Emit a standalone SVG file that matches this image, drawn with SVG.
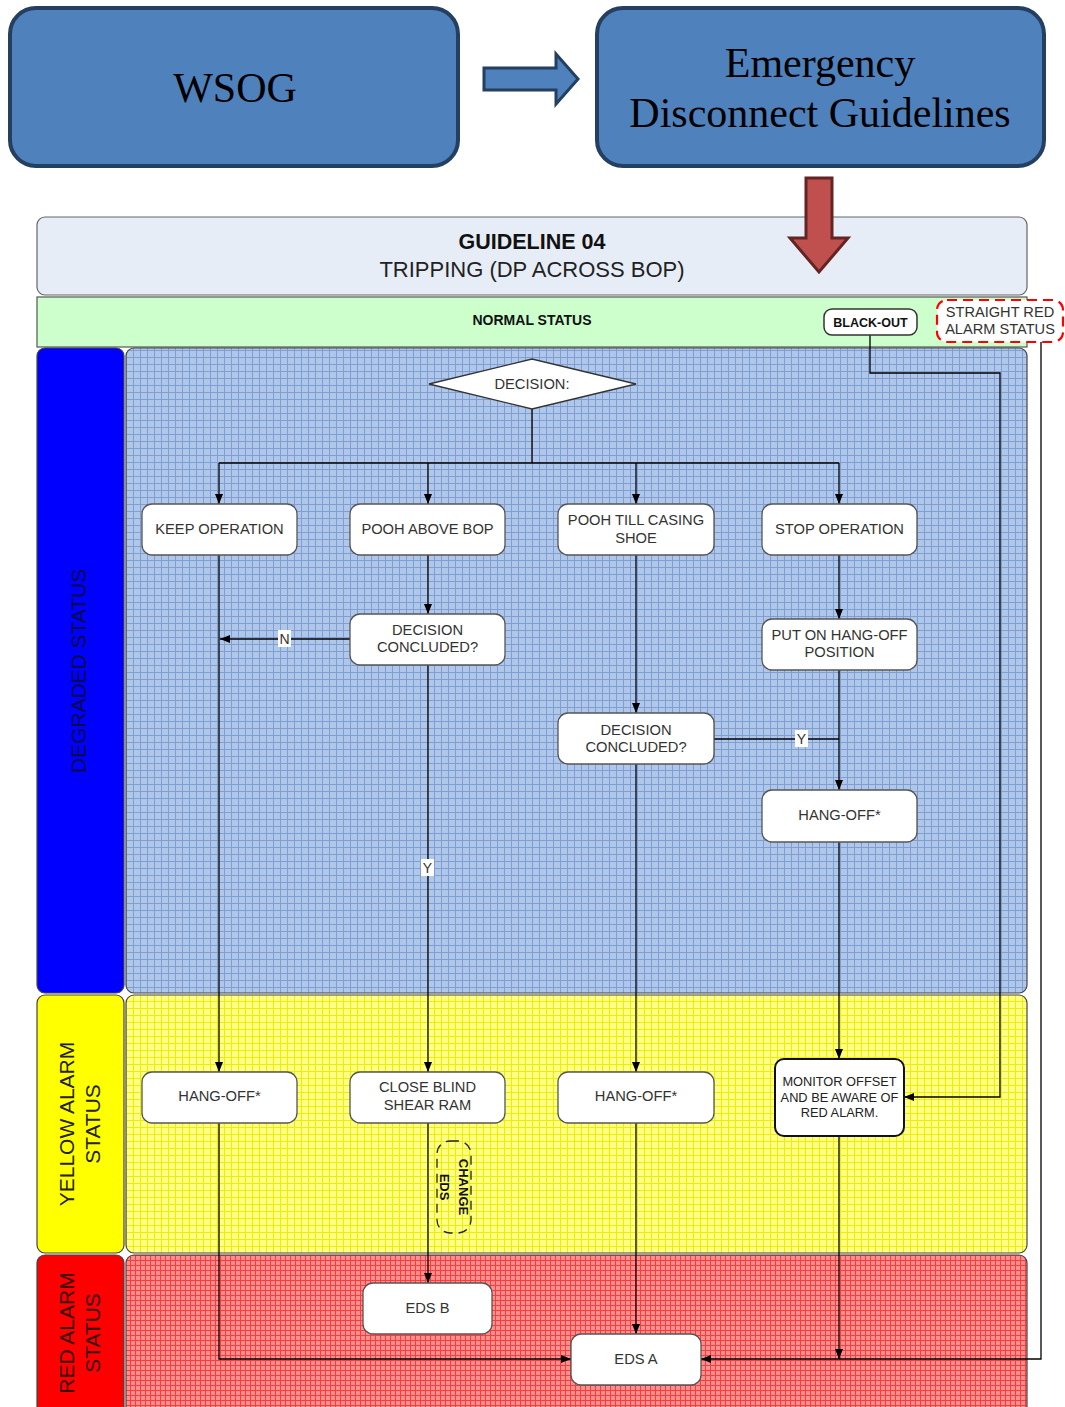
<svg xmlns="http://www.w3.org/2000/svg" width="1065" height="1407" viewBox="0 0 1065 1407">
<defs>
<style>
.big{font-family:"Liberation Serif","Times New Roman",serif;font-size:42px;fill:#000;text-anchor:middle}
.t{font-family:"Liberation Sans",Arial,sans-serif;font-size:14.7px;fill:#333;text-anchor:middle}
.ts{font-family:"Liberation Sans",Arial,sans-serif;font-size:12.8px;fill:#222;text-anchor:middle}
.tr{font-family:"Liberation Sans",Arial,sans-serif;font-size:14.6px;fill:#333;text-anchor:middle}
.tb{font-family:"Liberation Sans",Arial,sans-serif;font-weight:bold;fill:#111;text-anchor:middle}
.lane{font-family:"Liberation Sans",Arial,sans-serif;font-size:21px;text-anchor:middle}
.node{fill:#fff;stroke:#555;stroke-width:1.3}
.e{fill:none;stroke:#000;stroke-width:1.3}
.ea{fill:none;stroke:#000;stroke-width:1.3;marker-end:url(#arr)}
.lbl{fill:#fff;stroke:none}
.lt{font-family:"Liberation Sans",Arial,sans-serif;font-size:14px;fill:#333;text-anchor:middle}
.area{stroke:#444;stroke-width:1.2}
</style>
<marker id="arr" viewBox="0 0 10 10" refX="10" refY="5" markerWidth="10" markerHeight="10" markerUnits="userSpaceOnUse" orient="auto">
<path d="M0 1L10 5L0 9z" fill="#000"/>
</marker>
<pattern id="gBlue" width="7" height="7" patternUnits="userSpaceOnUse">
<rect width="7" height="7" fill="#B0C7EA"/>
<path d="M0 0.5H7M0.5 0V7" stroke="#7E9FD4" stroke-width="1"/>
</pattern>
<pattern id="gYel" width="7" height="7" patternUnits="userSpaceOnUse">
<rect width="7" height="7" fill="#FFFF88"/>
<path d="M0 0.5H7M0.5 0V7" stroke="#EEEE00" stroke-width="1"/>
</pattern>
<pattern id="gRed" width="5" height="5" patternUnits="userSpaceOnUse">
<rect width="5" height="5" fill="#FF9090"/>
<path d="M0 0.5H5M0.5 0V5" stroke="#FF3A3A" stroke-width="1"/>
</pattern>
</defs>

<g id="top-boxes">
<g id="wsog">
<rect x="10" y="8" width="448" height="158" rx="26" fill="#4F81BD" stroke="#243F60" stroke-width="4"/>
<text class="big" x="235" y="102">WSOG</text>
</g>
<g id="blue-arrow">
<polygon points="484,68 556,68 556,54 578,79 556,104 556,90 484,90" fill="#4F81BD" stroke="#243F60" stroke-width="3"/>
</g>
<g id="edg">
<rect x="597" y="8" width="447" height="158" rx="26" fill="#4F81BD" stroke="#243F60" stroke-width="4"/>
<text class="big" x="820" y="77">Emergency</text>
<text class="big" x="820" y="127">Disconnect Guidelines</text>
</g>
</g>

<g id="title">
<rect x="37" y="217" width="990" height="78" rx="8" fill="#E7EDF7" stroke="#666" stroke-width="1.2"/>
<text class="tb" x="532" y="249" font-size="21.5">GUIDELINE 04</text>
<text x="532" y="277" font-family="Liberation Sans,Arial,sans-serif" font-size="22" fill="#222" text-anchor="middle">TRIPPING (DP ACROSS BOP)</text>
</g>

<g id="red-arrow">
<polygon points="806,178 832,178 832,238 848,238 819,272 790,238 806,238" fill="#C0504D" stroke="#632523" stroke-width="3"/>
</g>

<g id="normal-status">
<rect x="37" y="297" width="990" height="50" fill="#CCFFCC" stroke="#555" stroke-width="1.2"/>
<text class="tb" x="532" y="325" font-size="14">NORMAL STATUS</text>
</g>

<g id="lanes">
<g id="degraded">
<rect class="area" x="126" y="348" width="901" height="645" rx="8" fill="url(#gBlue)"/>
<rect class="area" x="37" y="348" width="87" height="645" rx="8" fill="#0000FF"/>
<text class="lane" transform="translate(86,671) rotate(-90)" fill="#0A0A48">DEGRADED STATUS</text>
</g>
<g id="yellow">
<rect class="area" x="126" y="995" width="901" height="258" rx="8" fill="url(#gYel)"/>
<rect class="area" x="37" y="995" width="87" height="258" rx="8" fill="#FFFF00"/>
<text class="lane" transform="translate(74,1124) rotate(-90)" fill="#222">YELLOW ALARM</text>
<text class="lane" transform="translate(100,1124) rotate(-90)" fill="#222">STATUS</text>
</g>
<g id="red">
<rect class="area" x="126" y="1255" width="901" height="170" rx="8" fill="url(#gRed)"/>
<rect class="area" x="37" y="1255" width="87" height="170" rx="8" fill="#FF0000"/>
<text class="lane" transform="translate(74,1333) rotate(-90)" fill="#300">RED ALARM</text>
<text class="lane" transform="translate(100,1333) rotate(-90)" fill="#300">STATUS</text>
</g>
</g>

<g id="connectors">
<path class="e" d="M532 409V463M219 463H839"/>
<path class="ea" d="M219 463V504"/>
<path class="ea" d="M428 463V504"/>
<path class="ea" d="M636 463V504"/>
<path class="ea" d="M839 463V504"/>
<path class="ea" d="M219 555V1072"/>
<path class="ea" d="M428 555V614"/>
<path class="ea" d="M350 639H220"/>
<path class="ea" d="M428 665V1072"/>
<path class="ea" d="M428 1123V1283"/>
<path class="ea" d="M636 555V713"/>
<path class="e" d="M714 739H839"/>
<path class="ea" d="M636 764V1072"/>
<path class="ea" d="M839 555V619"/>
<path class="ea" d="M839 670V790"/>
<path class="ea" d="M839 842V1059"/>
<path class="ea" d="M839 1136V1359"/>
<path class="ea" d="M219 1123V1359H571"/>
<path class="ea" d="M636 1123V1334"/>
<path class="ea" d="M870 335V373H1000V1097H904"/>
<path class="ea" d="M1041 342V1359H701"/>
<g id="edge-labels">
<rect class="lbl" x="278" y="630" width="13" height="17"/>
<text class="lt" x="284.5" y="644">N</text>
<rect class="lbl" x="421" y="859" width="13" height="17"/>
<text class="lt" x="427.5" y="873">Y</text>
<rect class="lbl" x="795" y="730" width="13" height="17"/>
<text class="lt" x="801.5" y="744">Y</text>
</g>
</g>

<g id="nodes">
<g id="decision">
<polygon points="429,384 532,359 636,384 532,409" fill="#fff" stroke="#333" stroke-width="1.3"/>
<text class="t" x="532" y="389">DECISION:</text>
</g>
<g id="keep-operation">
<rect class="node" x="142" y="504" width="155" height="51" rx="10"/>
<text class="t" x="219.5" y="534">KEEP OPERATION</text>
</g>
<g id="pooh-above-bop">
<rect class="node" x="350" y="504" width="155" height="51" rx="10"/>
<text class="t" x="427.5" y="534">POOH ABOVE BOP</text>
</g>
<g id="pooh-till-casing">
<rect class="node" x="558" y="504" width="156" height="51" rx="10"/>
<text class="t" x="636" y="525">POOH TILL CASING</text>
<text class="t" x="636" y="543">SHOE</text>
</g>
<g id="stop-operation">
<rect class="node" x="762" y="504" width="155" height="51" rx="10"/>
<text class="t" x="839.5" y="534">STOP OPERATION</text>
</g>
<g id="decision-concluded-1">
<rect class="node" x="350" y="614" width="155" height="51" rx="10"/>
<text class="t" x="427.5" y="635">DECISION</text>
<text class="t" x="427.5" y="652">CONCLUDED?</text>
</g>
<g id="put-on-hang-off">
<rect class="node" x="762" y="619" width="155" height="51" rx="10"/>
<text class="t" x="839.5" y="640">PUT ON HANG-OFF</text>
<text class="t" x="839.5" y="657">POSITION</text>
</g>
<g id="decision-concluded-2">
<rect class="node" x="558" y="713" width="156" height="51" rx="10"/>
<text class="t" x="636" y="735">DECISION</text>
<text class="t" x="636" y="752">CONCLUDED?</text>
</g>
<g id="hang-off-right">
<rect class="node" x="762" y="790" width="155" height="52" rx="10"/>
<text class="t" x="839.5" y="820">HANG-OFF*</text>
</g>
<g id="hang-off-left">
<rect class="node" x="142" y="1072" width="155" height="51" rx="10"/>
<text class="t" x="219.5" y="1101">HANG-OFF*</text>
</g>
<g id="close-blind-shear-ram">
<rect class="node" x="350" y="1072" width="155" height="51" rx="10"/>
<text class="t" x="427.5" y="1092">CLOSE BLIND</text>
<text class="t" x="427.5" y="1110">SHEAR RAM</text>
</g>
<g id="hang-off-middle">
<rect class="node" x="558" y="1072" width="156" height="51" rx="10"/>
<text class="t" x="636" y="1101">HANG-OFF*</text>
</g>
<g id="monitor-offset">
<rect x="775" y="1059" width="129" height="77" rx="9" fill="#fff" stroke="#111" stroke-width="2"/>
<text class="ts" x="839.5" y="1086">MONITOR OFFSET</text>
<text class="ts" x="839.5" y="1101.5">AND BE AWARE OF</text>
<text class="ts" x="839.5" y="1116.5">RED ALARM.</text>
</g>
<g id="eds-b">
<rect class="node" x="363" y="1283" width="129" height="51" rx="10"/>
<text class="t" x="427.5" y="1313">EDS B</text>
</g>
<g id="eds-a">
<rect class="node" x="571" y="1334" width="130" height="51" rx="10"/>
<text class="t" x="636" y="1364">EDS A</text>
</g>
<g id="black-out">
<rect x="824" y="309" width="93" height="26" rx="8" fill="#fff" stroke="#333" stroke-width="1.5"/>
<text class="tb" x="870.5" y="326.5" font-size="12.5">BLACK-OUT</text>
</g>
<g id="straight-red-alarm">
<rect x="937" y="300" width="126" height="42" rx="10" fill="#fff" stroke="#FF0000" stroke-width="2.2" stroke-dasharray="10,6"/>
<text class="tr" x="1000" y="317">STRAIGHT RED</text>
<text class="tr" x="1000" y="334">ALARM STATUS</text>
</g>
<g id="change-eds">
<rect x="437" y="1141" width="34" height="92" rx="13" fill="none" stroke="#222" stroke-width="1.3" stroke-dasharray="9,6"/>
<text class="tb" transform="translate(458.5,1187) rotate(90)" font-size="13">CHANGE</text>
<text class="tb" transform="translate(440,1187) rotate(90)" font-size="13">EDS</text>
</g>
</g>
</svg>
